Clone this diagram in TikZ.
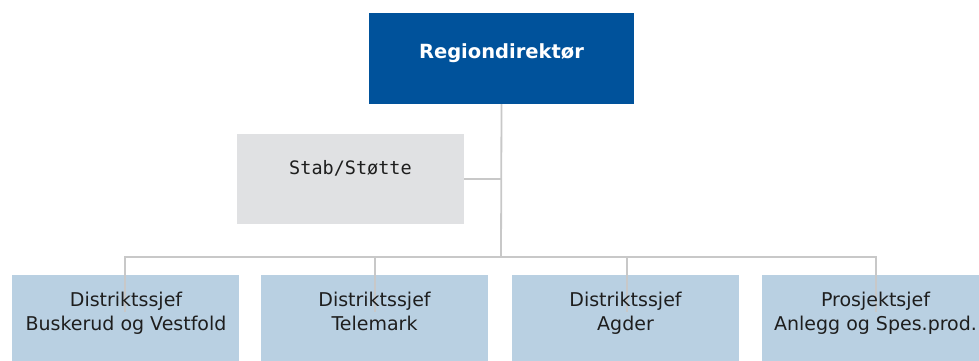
\documentclass[tikz,border=0pt]{standalone}
\usepackage{fontspec}
\setmainfont{DejaVu Sans}
\setmonofont{DejaVu Sans Mono}
\definecolor{topblue}{RGB}{0,82,155}
\definecolor{stabgray}{RGB}{224,225,227}
\definecolor{lowblue}{RGB}{185,208,226}
\definecolor{linegray}{RGB}{200,200,200}
\definecolor{txtdark}{RGB}{30,30,30}
\tikzset{
  orgbox/.style={draw=none, inner sep=0pt, outer sep=0pt, minimum width=#1},
  topbox/.style={orgbox=265pt, minimum height=91pt, fill=topblue},
  stabbox/.style={orgbox=227pt, minimum height=90pt, fill=stabgray},
  lowbox/.style={orgbox=227pt, minimum height=91pt, fill=lowblue},
  conn/.style={draw=linegray, line width=1.8pt},
  toptext/.style={inner sep=0pt, anchor=base, text=white, font=\fontsize{19.5}{24}\selectfont\bfseries},
  stabtext/.style={inner sep=0pt, anchor=base, text=txtdark, font=\fontsize{18.5}{24}\selectfont\ttfamily},
  lowtext/.style={inner sep=0pt, anchor=base, text=txtdark, align=center, font=\fontsize{19}{24}\selectfont},
}
\begin{document}
\begin{tikzpicture}[x=1pt,y=-1pt]
\useasboundingbox (0,0) rectangle (979,360);
\clip (0,0) rectangle (979,360);
\fill[white] (0,0) rectangle (979,360);
% boxes
\node[topbox] (top) at (501.5,58.5) {};
\node[stabbox] (stab) at (350.5,179) {};
\node[lowbox] (b1) at (125.5,320.5) {};
\node[lowbox] (b2) at (374.5,320.5) {};
\node[lowbox] (b3) at (625.5,320.5) {};
\node[lowbox] (b4) at (875.5,320.5) {};
% connector points
\coordinate (bus) at (501,257);
\coordinate (d1) at (125,312);
\coordinate (d2) at (375,312);
\coordinate (d3) at (627,312);
\coordinate (d4) at (876,312);
% connectors
\draw[conn] (top.south) -- (bus);
\draw[conn] (stab.east |- 0,179) -- (bus |- 0,179);
\draw[conn] (d1) -- (d1 |- bus) -- (d4 |- bus) -- (d4);
\draw[conn] (d2 |- bus) -- (d2);
\draw[conn] (d3 |- bus) -- (d3);
% texts
\node[toptext] (toplbl) at (501.5,58) {Regiondirektør};
\node[stabtext] (stablbl) at (350.5,174) {Stab/Støtte};
\node[lowtext] (l1) at (126,330) {Distriktssjef\\Buskerud og Vestfold};
\node[lowtext] (l2) at (374.5,330) {Distriktssjef\\Telemark};
\node[lowtext] (l3) at (625.5,330) {Distriktssjef\\Agder};
\node[lowtext] (l4) at (875.5,330) {Prosjektsjef\\Anlegg og Spes.prod.};
\end{tikzpicture}
\end{document}
